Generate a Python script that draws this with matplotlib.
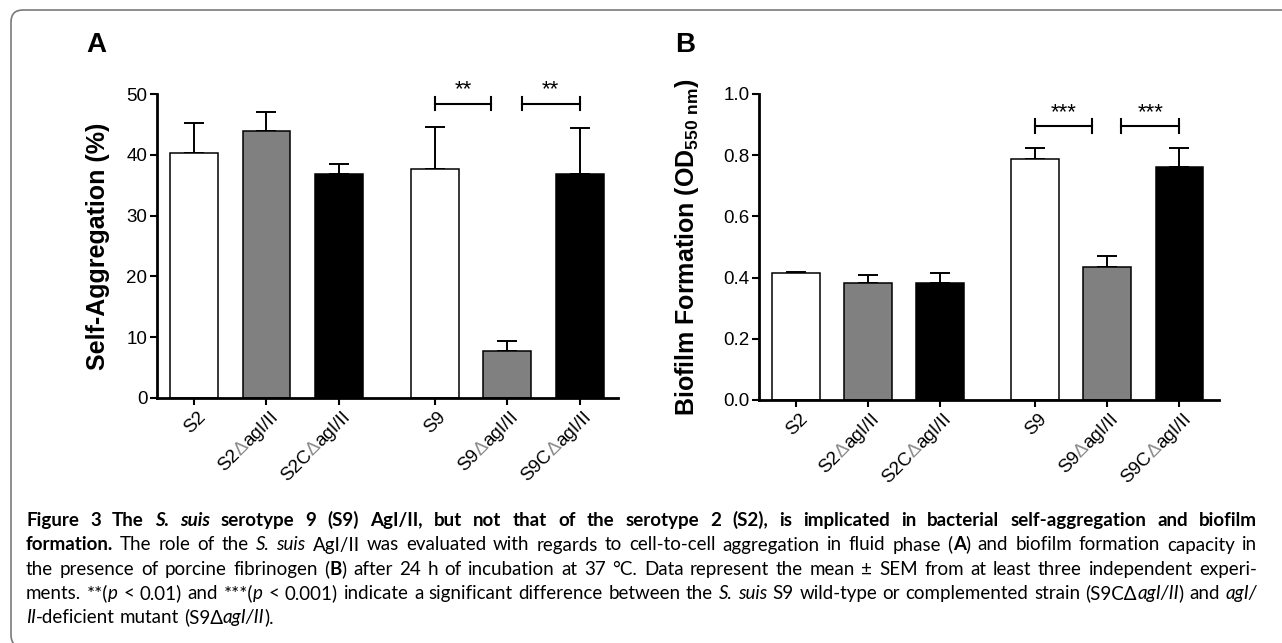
import numpy as np
import matplotlib
matplotlib.use("Agg")
import matplotlib.pyplot as plt
from matplotlib.patches import FancyBboxPatch
from matplotlib.transforms import IdentityTransform

# ---- data ----
strains = ["S2", "S2\u0394agI/II", "S2C\u0394agI/II", "S9", "S9\u0394agI/II", "S9C\u0394agI/II"]
bar_colors = ["white", "#808080", "black", "white", "#808080", "black"]

aggregation = [40.3, 43.9, 36.8, 37.7, 7.7, 36.9]       # Self-Aggregation (%)
aggregation_sem = [5.0, 3.2, 1.7, 6.9, 1.6, 7.5]

biofilm = [0.414, 0.381, 0.383, 0.789, 0.435, 0.762]    # OD550
biofilm_sem = [0.004, 0.027, 0.031, 0.036, 0.034, 0.060]

stars_a = ["**", "**"]
stars_b = ["***", "***"]

W, H = 1282, 643
plt.rcParams['font.family'] = ['Liberation Sans', 'DejaVu Sans']
plt.rcParams['mathtext.default'] = 'regular'

fig = plt.figure(figsize=(W / 100, H / 100), dpi=100)
renderer = fig.canvas.get_renderer()

pos = [0, 1, 2, 3.32, 4.32, 5.32]
TICK_FS = 13.5


def px_axes(left, right, top, bottom):
    return fig.add_axes([left / W, 1 - bottom / H, (right - left) / W, (bottom - top) / H])


def bracket(ax, x0, x1, y, h, label, ty):
    ax.plot([x0, x1], [y, y], color='black', lw=1.5, clip_on=False)
    ax.plot([x0, x0], [y - h, y + h], color='black', lw=1.5, clip_on=False)
    ax.plot([x1, x1], [y - h, y + h], color='black', lw=1.5, clip_on=False)
    ax.text((x0 + x1) / 2, ty, label, ha='center', va='center', fontsize=16, clip_on=False)


def text_w(s, **kw):
    t = fig.text(0, 0, s, **kw)
    w = t.get_window_extent(renderer).width
    t.remove()
    return w


def strain_labels(ax):
    # rotated labels drawn piece by piece so the delta can be grey, like the original
    ang = np.deg2rad(45)
    y0 = ax.transData.transform((0, 0))[1] - 10.5
    for p, name in zip(pos, strains):
        if '\u0394' in name:
            a, b = name.split('\u0394')
            pieces = [(a, 'black'), ('\u0394', '#8a8a8a'), (b, 'black')]
        else:
            pieces = [(name, 'black')]
        x = ax.transData.transform((p, 0))[0] + 3
        y = y0
        for s, c in reversed(pieces):
            fig.text(x / W, y / H, s, rotation=45, rotation_mode='anchor', ha='right', va='top',
                     fontsize=TICK_FS, color=c)
            w = text_w(s, fontsize=TICK_FS)
            x -= w * np.cos(ang)
            y -= w * np.sin(ang)


def draw_panel(ax, vals, sems, ymax, step, fmt, ylabel, label_x, xmax):
    ax.bar(pos, vals, width=0.66, color=bar_colors, edgecolor='black', linewidth=1.1, zorder=2)
    ax.errorbar(pos, vals, yerr=[np.zeros(len(vals)), sems], fmt='none', ecolor='black',
                elinewidth=1.4, capsize=7, capthick=1.4, zorder=1)
    ax.set_ylim(0, ymax)
    ax.set_xlim(-0.51, xmax)
    ax.set_yticks(np.arange(0, ymax + step / 2, step))
    ax.yaxis.set_major_formatter(plt.FormatStrFormatter(fmt))
    ax.set_xticks(pos)
    ax.set_xticklabels([])
    for s in ['top', 'right']:
        ax.spines[s].set_visible(False)
    for s in ['left', 'bottom']:
        ax.spines[s].set_linewidth(2.0)
    ax.tick_params(axis='both', direction='out', length=5, width=1.5, labelsize=TICK_FS, pad=2)
    ax.set_ylabel(ylabel, fontsize=18, fontweight='bold')
    ax.yaxis.set_label_coords(label_x, 0.5)
    strain_labels(ax)


axA = px_axes(157, 618, 94, 398)
draw_panel(axA, aggregation, aggregation_sem, 50, 10, '%d', 'Self-Aggregation (%)', -0.102, 5.85)
bracket(axA, pos[3], pos[4] - 0.22, 48.4, 1.1, stars_a[0], 50.7)
bracket(axA, pos[4] + 0.2, pos[5], 48.4, 1.1, stars_a[1], 50.7)

axB = px_axes(759, 1219, 94, 400)
draw_panel(axB, biofilm, biofilm_sem, 1.0, 0.2, '%.1f',
           'Biofilm Formation (OD$_{550\\ nm}$)', -0.126, 5.87)
bracket(axB, pos[3], pos[4] - 0.21, 0.895, 0.022, stars_b[0], 0.94)
bracket(axB, pos[4] + 0.19, pos[5], 0.895, 0.022, stars_b[1], 0.94)

fig.text(86 / W, 1 - 52 / H, "A", fontsize=20, fontweight='bold', va='baseline')
fig.text(675 / W, 1 - 52 / H, "B", fontsize=20, fontweight='bold', va='baseline')

# rounded frame around the figure
frame = FancyBboxPatch((11, -4), 1400, H - 10 + 4, boxstyle="round,pad=0,rounding_size=12",
                       transform=IdentityTransform(), facecolor='none', edgecolor='#7a7a7a', lw=1.2)
fig.add_artist(frame)

# ---- caption ----
cap_lines = [
    [("Figure 3  The ", "b"), ("S. suis", "bi"),
     (" serotype 9 (S9) AgI/II, but not that of the serotype 2 (S2), is implicated in bacterial self-aggregation and biofilm", "b")],
    [("formation.", "b"), (" The role of the ", "r"), ("S. suis", "i"),
     (" AgI/II was evaluated with regards to cell-to-cell aggregation in fluid phase (", "r"), ("A", "b"),
     (") and biofilm formation capacity in", "r")],
    [("the presence of porcine fibrinogen (", "r"), ("B", "b"),
     (") after 24 h of incubation at 37 \u00b0C. Data represent the mean \u00b1 SEM from at least three independent experi-", "r")],
    [("ments. **(", "r"), ("p", "i"), (" < 0.01) and ***(", "r"), ("p", "i"),
     (" < 0.001) indicate a significant difference between the ", "r"), ("S. suis", "i"),
     (" S9 wild-type or complemented strain (S9C\u0394", "r"), ("agI/II", "i"), (") and ", "r"), ("agI/", "i")],
    [("II", "i"), ("-deficient mutant (S9\u0394", "r"), ("agI/II", "i"), (").", "r")],
]
baselines = [526, 550.5, 575, 599, 623]
cap_left, cap_right = 26, 1257


def props(st, size):
    return dict(family=['Lato', 'DejaVu Sans'], fontsize=size,
                fontweight='bold' if 'b' in st else 'normal',
                fontstyle='italic' if 'i' in st else 'normal')


def width(s, st, size):
    return text_w(s, **props(st, size))


def split_words(runs):
    words = [[]]
    for text, st in runs:
        parts = text.split(' ')
        for k, p in enumerate(parts):
            if k > 0 and words[-1]:
                words.append([])
            if p:
                words[-1].append((p, st))
    if not words[-1]:
        words.pop()
    return words


def natural(runs, size):
    words = split_words(runs)
    sp = width("n n", "r", size) - width("nn", "r", size)
    ws = sum(width(p, st, size) for w in words for p, st in w)
    return ws + sp * (len(words) - 1)


base = 11
fit = min((cap_right - cap_left) / natural(r, base) for r in cap_lines[:4])
size = min(base * fit * 0.99, 13.5)

for li, runs in enumerate(cap_lines):
    words = split_words(runs)
    wws = [[width(p, st, size) for p, st in w] for w in words]
    total = sum(sum(x) for x in wws)
    if li < 4:
        gap = (cap_right - cap_left - total) / (len(words) - 1)
    else:
        gap = width("n n", "r", size) - width("nn", "r", size)
    x = cap_left
    y = 1 - baselines[li] / H
    for w, ww in zip(words, wws):
        for (p, st), pw in zip(w, ww):
            fig.text(x / W, y, p, va='baseline', ha='left', **props(st, size))
            x += pw
        x += gap

fig.savefig("out.png", dpi=100)
